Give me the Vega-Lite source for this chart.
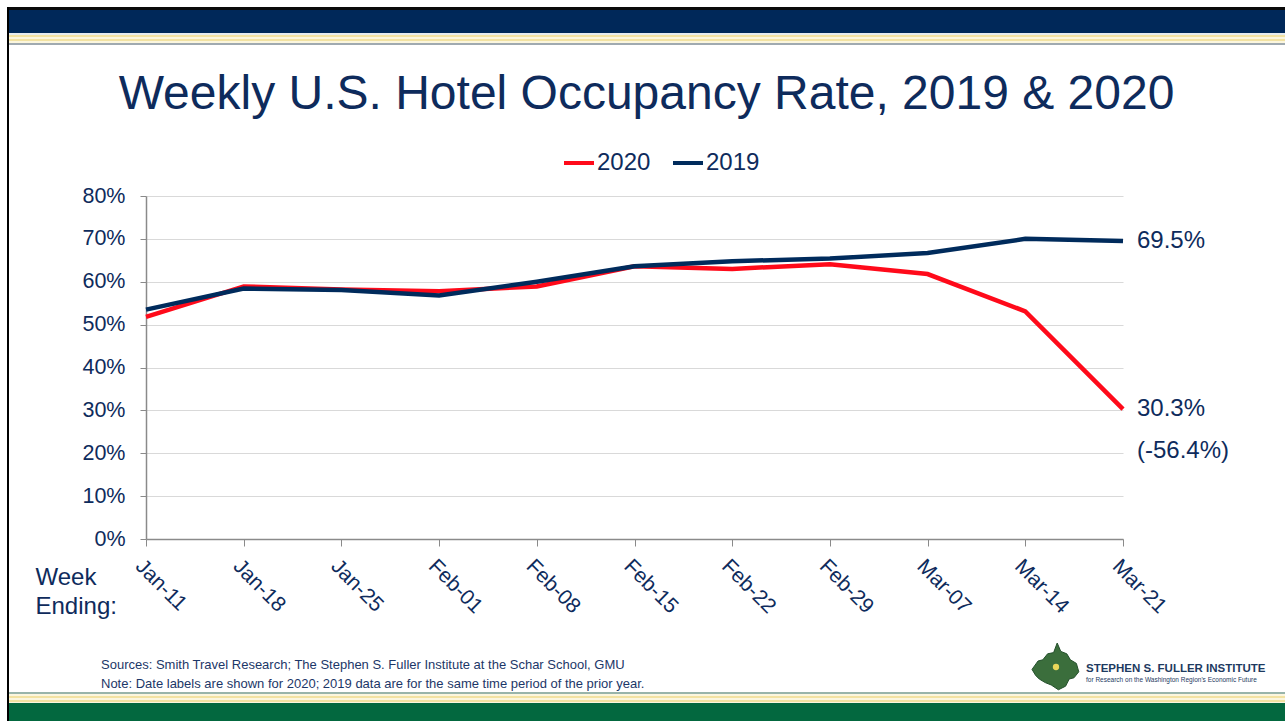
{
  "$schema": "https://vega.github.io/schema/vega-lite/v6.json",
  "padding": {"left": 7, "top": 7, "right": 0, "bottom": 0},
  "background": "white",
  "spacing": 0,
  "resolve": {"scale": {"color": "independent"}, "legend": {"color": "independent"}},
  "config": {"view": {"stroke": null}, "font": "Liberation Sans", "concat": {"spacing": 0}},
  "hconcat": [
    {"width": 2, "height": 714, "data": {"values": []}, "mark": "rect", "view": {"fill": "#000000", "stroke": null}},
    {
      "spacing": 0,
      "resolve": {"scale": {"color": "independent"}, "legend": {"color": "independent"}},
      "vconcat": [
        {"width": 1276, "height": 3, "data": {"values": []}, "mark": "rect", "view": {"fill": "#0a0a0a", "stroke": null}},
        {"width": 1276, "height": 23, "data": {"values": []}, "mark": "rect", "view": {"fill": "#002859", "stroke": null}},
        {"width": 1276, "height": 2, "data": {"values": []}, "mark": "rect", "view": {"fill": "#e6ecee", "stroke": null}},
        {"width": 1276, "height": 2, "data": {"values": []}, "mark": "rect", "view": {"fill": "#f2e2a2", "stroke": null}},
        {"width": 1276, "height": 2, "data": {"values": []}, "mark": "rect", "view": {"fill": "#fbf6de", "stroke": null}},
        {"width": 1276, "height": 2, "data": {"values": []}, "mark": "rect", "view": {"fill": "#f2e2a2", "stroke": null}},
        {"width": 1276, "height": 2, "data": {"values": []}, "mark": "rect", "view": {"fill": "#fbf6de", "stroke": null}},
        {"width": 1276, "height": 2, "data": {"values": []}, "mark": "rect", "view": {"fill": "#a0aab0", "stroke": null}},
        {"width": 1276, "height": 26, "data": {"values": []}, "mark": "rect", "view": {"stroke": null}},
        {
          "spacing": 0,
          "resolve": {"scale": {"color": "independent"}, "legend": {"color": "independent"}},
          "hconcat": [
            {"width": 26, "height": 343, "data": {"values": []}, "mark": "rect", "view": {"stroke": null}},
            {
              "width": 977,
              "height": 343,
              "title": {"text": "Weekly U.S. Hotel Occupancy Rate, 2019 & 2020", "fontSize": 48, "fontWeight": "normal", "color": "#0e2b5c", "font": "Liberation Sans", "anchor": "middle", "frame": "group", "dx": 12, "offset": 27},
              "data": {"values": [
                {"week": "Jan-11", "series": "2019", "value": 0.535},
                {"week": "Jan-18", "series": "2019", "value": 0.584},
                {"week": "Jan-25", "series": "2019", "value": 0.581},
                {"week": "Feb-01", "series": "2019", "value": 0.568},
                {"week": "Feb-08", "series": "2019", "value": 0.600},
                {"week": "Feb-15", "series": "2019", "value": 0.636},
                {"week": "Feb-22", "series": "2019", "value": 0.648},
                {"week": "Feb-29", "series": "2019", "value": 0.654},
                {"week": "Mar-07", "series": "2019", "value": 0.667},
                {"week": "Mar-14", "series": "2019", "value": 0.700},
                {"week": "Mar-21", "series": "2019", "value": 0.695},
                {"week": "Jan-11", "series": "2020", "value": 0.518},
                {"week": "Jan-18", "series": "2020", "value": 0.589},
                {"week": "Jan-25", "series": "2020", "value": 0.582},
                {"week": "Feb-01", "series": "2020", "value": 0.578},
                {"week": "Feb-08", "series": "2020", "value": 0.589},
                {"week": "Feb-15", "series": "2020", "value": 0.636},
                {"week": "Feb-22", "series": "2020", "value": 0.630},
                {"week": "Feb-29", "series": "2020", "value": 0.641},
                {"week": "Mar-07", "series": "2020", "value": 0.618},
                {"week": "Mar-14", "series": "2020", "value": 0.531},
                {"week": "Mar-21", "series": "2020", "value": 0.303}
              ]},
              "encoding": {
                "x": {
                  "field": "week", "type": "ordinal",
                  "sort": ["Jan-11","Jan-18","Jan-25","Feb-01","Feb-08","Feb-15","Feb-22","Feb-29","Mar-07","Mar-14","Mar-21"],
                  "scale": {"type": "point", "padding": 0, "domain": ["Jan-11","Jan-18","Jan-25","Feb-01","Feb-08","Feb-15","Feb-22","Feb-29","Mar-07","Mar-14","Mar-21"]},
                  "axis": {
                    "labelAngle": 45, "labelAlign": "left", "labelBaseline": "top", "labelFontSize": 21, "labelColor": "#0e2b5c", "labelPadding": 9,
                    "tickColor": "#8a8a8a", "tickSize": 7, "domainColor": "#8a8a8a", "domainWidth": 1.5, "grid": false,
                    "title": ["Week", "Ending:"], "titleX": -111, "titleY": 26, "titleAlign": "left", "titleBaseline": "top", "titleAnchor": "start",
                    "titleFontSize": 24, "titleFontWeight": "normal", "titleColor": "#0e2b5c", "titleLineHeight": 29
                  }
                },
                "y": {
                  "field": "value", "type": "quantitative",
                  "scale": {"domain": [0, 0.8], "nice": false},
                  "axis": {
                    "values": [0, 0.1, 0.2, 0.3, 0.4, 0.5, 0.6, 0.7, 0.8], "format": ".0%", "title": null,
                    "labelFontSize": 21.5, "labelColor": "#0e2b5c", "labelPadding": 15,
                    "tickColor": "#8a8a8a", "tickSize": 6, "domainColor": "#8a8a8a", "domainWidth": 1.5,
                    "gridColor": "#d9d9d9", "gridWidth": 1.2
                  }
                }
              },
              "layer": [
                {
                  "transform": [{"filter": "datum.series === '2020'"}],
                  "mark": {"type": "line", "strokeWidth": 4.5},
                  "encoding": {
                    "color": {"field": "series", "type": "nominal",
                      "scale": {"domain": ["2020", "2019"], "range": ["#ff0a1a", "#002b5c"]},
                      "legend": {"orient": "none", "legendX": 416, "legendY": -50, "direction": "horizontal", "title": null,
                        "symbolType": "stroke", "symbolStrokeWidth": 4, "symbolSize": 900, "labelFontSize": 24, "labelColor": "#0e2b5c",
                        "labelOffset": 1, "columnPadding": 14, "padding": 0}}
                  }
                },
                {
                  "transform": [{"filter": "datum.series === '2019'"}],
                  "mark": {"type": "line", "strokeWidth": 4.5},
                  "encoding": {
                    "color": {"field": "series", "type": "nominal",
                      "scale": {"domain": ["2020", "2019"], "range": ["#ff0a1a", "#002b5c"]},
                      "legend": {"orient": "none", "legendX": 416, "legendY": -50, "direction": "horizontal", "title": null,
                        "symbolType": "stroke", "symbolStrokeWidth": 4, "symbolSize": 900, "labelFontSize": 24, "labelColor": "#0e2b5c",
                        "labelOffset": 1, "columnPadding": 14, "padding": 0}}
                  }
                },
                {
                  "data": {"values": [
                    {"week": "Mar-21", "value": 0.695, "label": "69.5%"},
                    {"week": "Mar-21", "value": 0.303, "label": "30.3%"}
                  ]},
                  "mark": {"type": "text", "align": "left", "baseline": "middle", "dx": 14, "fontSize": 24, "color": "#0e2b5c"},
                  "encoding": {"text": {"field": "label"}}
                },
                {
                  "data": {"values": [
                    {"week": "Mar-21", "value": 0.303, "label": "(-56.4%)"}
                  ]},
                  "mark": {"type": "text", "align": "left", "baseline": "middle", "dx": 14, "dy": 42, "fontSize": 24, "color": "#0e2b5c"},
                  "encoding": {"text": {"field": "label"}}
                }
              ]
            }
          ]
        },
        {"width": 1276, "height": 23, "data": {"values": []}, "mark": "rect", "view": {"stroke": null}},
        {
          "spacing": 0,
          "hconcat": [
            {
              "width": 1017, "height": 50,
              "title": {"text": "Sources: Smith Travel Research; The Stephen S. Fuller Institute at the Schar School, GMU",
                "subtitle": "Note: Date labels are shown for 2020; 2019 data are for the same time period of the prior year.",
                "anchor": "start", "frame": "group", "dx": 92, "offset": -49,
                "font": "Liberation Sans", "fontSize": 13, "fontWeight": "normal", "color": "#1c3768",
                "subtitleFont": "Liberation Sans", "subtitleFontSize": 13, "subtitleColor": "#1c3768", "subtitlePadding": 6},
              "data": {"values": []}, "mark": "rect", "view": {"stroke": null}
            },
            {
              "width": 60, "height": 50,
              "data": {"values": [{}]},
              "layer": [
                {"mark": {"type": "point", "filled": true, "opacity": 1, "size": 2300, "color": "#3b6e3c", "stroke": "#24502c", "strokeWidth": 1,
                  "shape": "M-1,0.1 L-0.75,-0.25 L-0.55,-0.3 L-0.35,-0.55 L-0.1,-0.6 L0.05,-1 L0.2,-0.65 L0.45,-0.55 L0.6,-0.3 L0.85,-0.15 L0.95,0.2 L0.75,0.45 L0.55,0.5 L0.4,0.8 L0.1,0.95 L-0.2,0.75 L-0.45,0.65 L-0.7,0.5 L-0.85,0.35 Z"}},
                {"mark": {"type": "point", "filled": true, "opacity": 1, "size": 40, "color": "#e9d65a", "shape": "circle"}}
              ],
              "view": {"stroke": null}
            },
            {
              "width": 199, "height": 50,
              "title": {"text": "STEPHEN S. FULLER INSTITUTE",
                "subtitle": "for Research on the Washington Region's Economic Future",
                "anchor": "start", "frame": "group", "dx": -2, "offset": -41,
                "font": "Liberation Sans", "fontSize": 11.5, "fontWeight": "bold", "color": "#1d3a5f",
                "subtitleFont": "Liberation Sans", "subtitleFontSize": 6.5, "subtitleColor": "#1d3a5f", "subtitlePadding": 2},
              "data": {"values": []}, "mark": "rect", "view": {"stroke": null}
            }
          ]
        },
        {"width": 1276, "height": 2, "data": {"values": []}, "mark": "rect", "view": {"fill": "#98b4aa", "stroke": null}},
        {"width": 1276, "height": 2, "data": {"values": []}, "mark": "rect", "view": {"fill": "#fbf6de", "stroke": null}},
        {"width": 1276, "height": 2, "data": {"values": []}, "mark": "rect", "view": {"fill": "#f2e2a2", "stroke": null}},
        {"width": 1276, "height": 2, "data": {"values": []}, "mark": "rect", "view": {"fill": "#fbf6de", "stroke": null}},
        {"width": 1276, "height": 2, "data": {"values": []}, "mark": "rect", "view": {"fill": "#f2e2a2", "stroke": null}},
        {"width": 1276, "height": 1, "data": {"values": []}, "mark": "rect", "view": {"fill": "#fbf6de", "stroke": null}},
        {"width": 1276, "height": 22, "data": {"values": []}, "mark": "rect", "view": {"fill": "#03683f", "stroke": null}}
      ]
    }
  ]
}
